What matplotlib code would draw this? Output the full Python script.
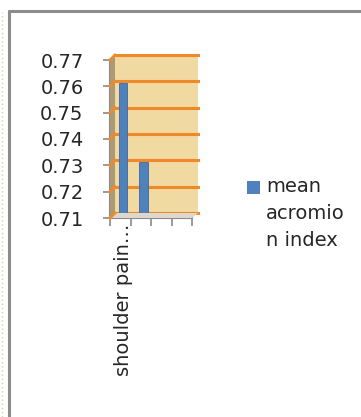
import matplotlib
matplotlib.use("Agg")
import matplotlib.pyplot as plt
from matplotlib.lines import Line2D
from matplotlib.patches import Polygon, Rectangle

W, H = 361, 417

categories = ["shoulder pain\u2026", "", "", ""]
mean_acromion = [0.76, 0.73, None, None]
series_name = "mean\nacromio\nn index"
y_ticks = [0.71, 0.72, 0.73, 0.74, 0.75, 0.76, 0.77]

wall_color = "#f1d9a2"
grid_color = "#ee8a2a"
bar_color = "#4f81bd"
axis_color = "#8a8a8a"
text_color = "#262626"

plt.rcParams['font.family'] = ['DejaVu Sans']


def px(x0, y0, x1, y1):
    return [x0 / W, 1 - y1 / H, (x1 - x0) / W, (y1 - y0) / H]


def fig_pt(x, y):
    return (x / W, 1 - y / H)


fig = plt.figure(figsize=(W / 100, H / 100), dpi=100)
fig.patch.set_facecolor("white")

# outer frame
fig.add_artist(Line2D([9 / W, 9 / W], [0, 1 - 10 / H], color="#8c8c8c", lw=2.2,
                      solid_capstyle="butt"))
fig.add_artist(Line2D([8 / W, 1], [1 - 11 / H, 1 - 11 / H], color="#8c8c8c", lw=2.2,
                      solid_capstyle="butt"))
fig.add_artist(Line2D([1.5 / W, 1.5 / W], [0, 1 - 12 / H], color="#c9d6a0", lw=1, ls=(0, (1, 2))))

# back wall with gridlines
ymin, ymax = y_ticks[0], y_ticks[-1]
ax_wall = fig.add_axes(px(115, 55, 198, 213))
ax_wall.set_facecolor(wall_color)
ax_wall.set_xlim(0, 1)
ax_wall.set_ylim(ymin, ymax)
for v in y_ticks:
    ax_wall.axhline(v, color=grid_color, lw=2.2, clip_on=False)
ax_wall.set_xticks([])
ax_wall.set_yticks([])
for s in ax_wall.spines.values():
    s.set_visible(False)

# side wall and floor
side = Polygon([fig_pt(110, 218), fig_pt(110, 60), fig_pt(115, 55), fig_pt(115, 213)],
               closed=True, transform=fig.transFigure, facecolor="#ab9a74", edgecolor="none")
floor = Polygon([fig_pt(110, 218), fig_pt(115, 213), fig_pt(198, 213), fig_pt(192, 218)],
                closed=True, transform=fig.transFigure, facecolor="#dcd8cf", edgecolor="none")
fig.add_artist(side)
fig.add_artist(floor)

# front axes: ticks and labels
ax_front = fig.add_axes(px(110, 60, 192, 218))
ax_front.patch.set_alpha(0)
ax_front.set_xlim(-0.5, len(categories) - 0.5)
ax_front.set_ylim(ymin, ymax)

# diagonal gridline pieces across the side wall
inv = fig.transFigure.inverted()
for v in y_ticks:
    a = inv.transform(ax_front.transData.transform((-0.5, v)))
    b = inv.transform(ax_wall.transData.transform((0, v)))
    fig.add_artist(Line2D([a[0], b[0]], [a[1], b[1]], color=grid_color, lw=2))

# bars sit between front and back
ax_bar = fig.add_axes(px(112.5, 57, 195, 215))
ax_bar.patch.set_alpha(0)
ax_bar.set_xlim(-0.5, len(categories) - 0.5)
ax_bar.set_ylim(ymin, ymax)
xs = [i for i, v in enumerate(mean_acromion) if v is not None]
vals = [v for v in mean_acromion if v is not None]
ax_bar.bar(xs, [v - ymin for v in vals], bottom=ymin, width=0.4, color=bar_color,
           edgecolor="#3a6aa5", lw=0.6)
ax_bar.axis("off")

ax_front.set_yticks(y_ticks)
ax_front.set_yticklabels(["%.2f" % v for v in y_ticks], fontsize=14, color=text_color)
ax_front.set_xticks([-0.5 + i for i in range(len(categories) + 1)])
ax_front.set_xticklabels([""] * (len(categories) + 1))
ax_front.tick_params(axis="y", length=5, color=axis_color, width=1.2, pad=14)
ax_front.tick_params(axis="x", length=6, color=axis_color, width=1.2)
for s in ["top", "right"]:
    ax_front.spines[s].set_visible(False)
for s in ["left", "bottom"]:
    ax_front.spines[s].set_color(axis_color)
    ax_front.spines[s].set_linewidth(1.5)

# category labels
for i, c in enumerate(categories):
    if c:
        ax_front.annotate(c, xy=(i, ymin), xytext=(2, -4), textcoords="offset points",
                          rotation=90, ha="center", va="top", fontsize=14, color=text_color)

# legend, drawn by hand so the key sits beside the first line
fig.add_artist(Rectangle(fig_pt(247, 194), 13 / W, 13 / H, transform=fig.transFigure,
                         facecolor=bar_color, edgecolor="none"))
fig.text(266 / W, 1 - 177 / H, series_name, ha="left", va="top", fontsize=14,
         color=text_color, linespacing=1.55)

fig.savefig("out.png", dpi=100)
